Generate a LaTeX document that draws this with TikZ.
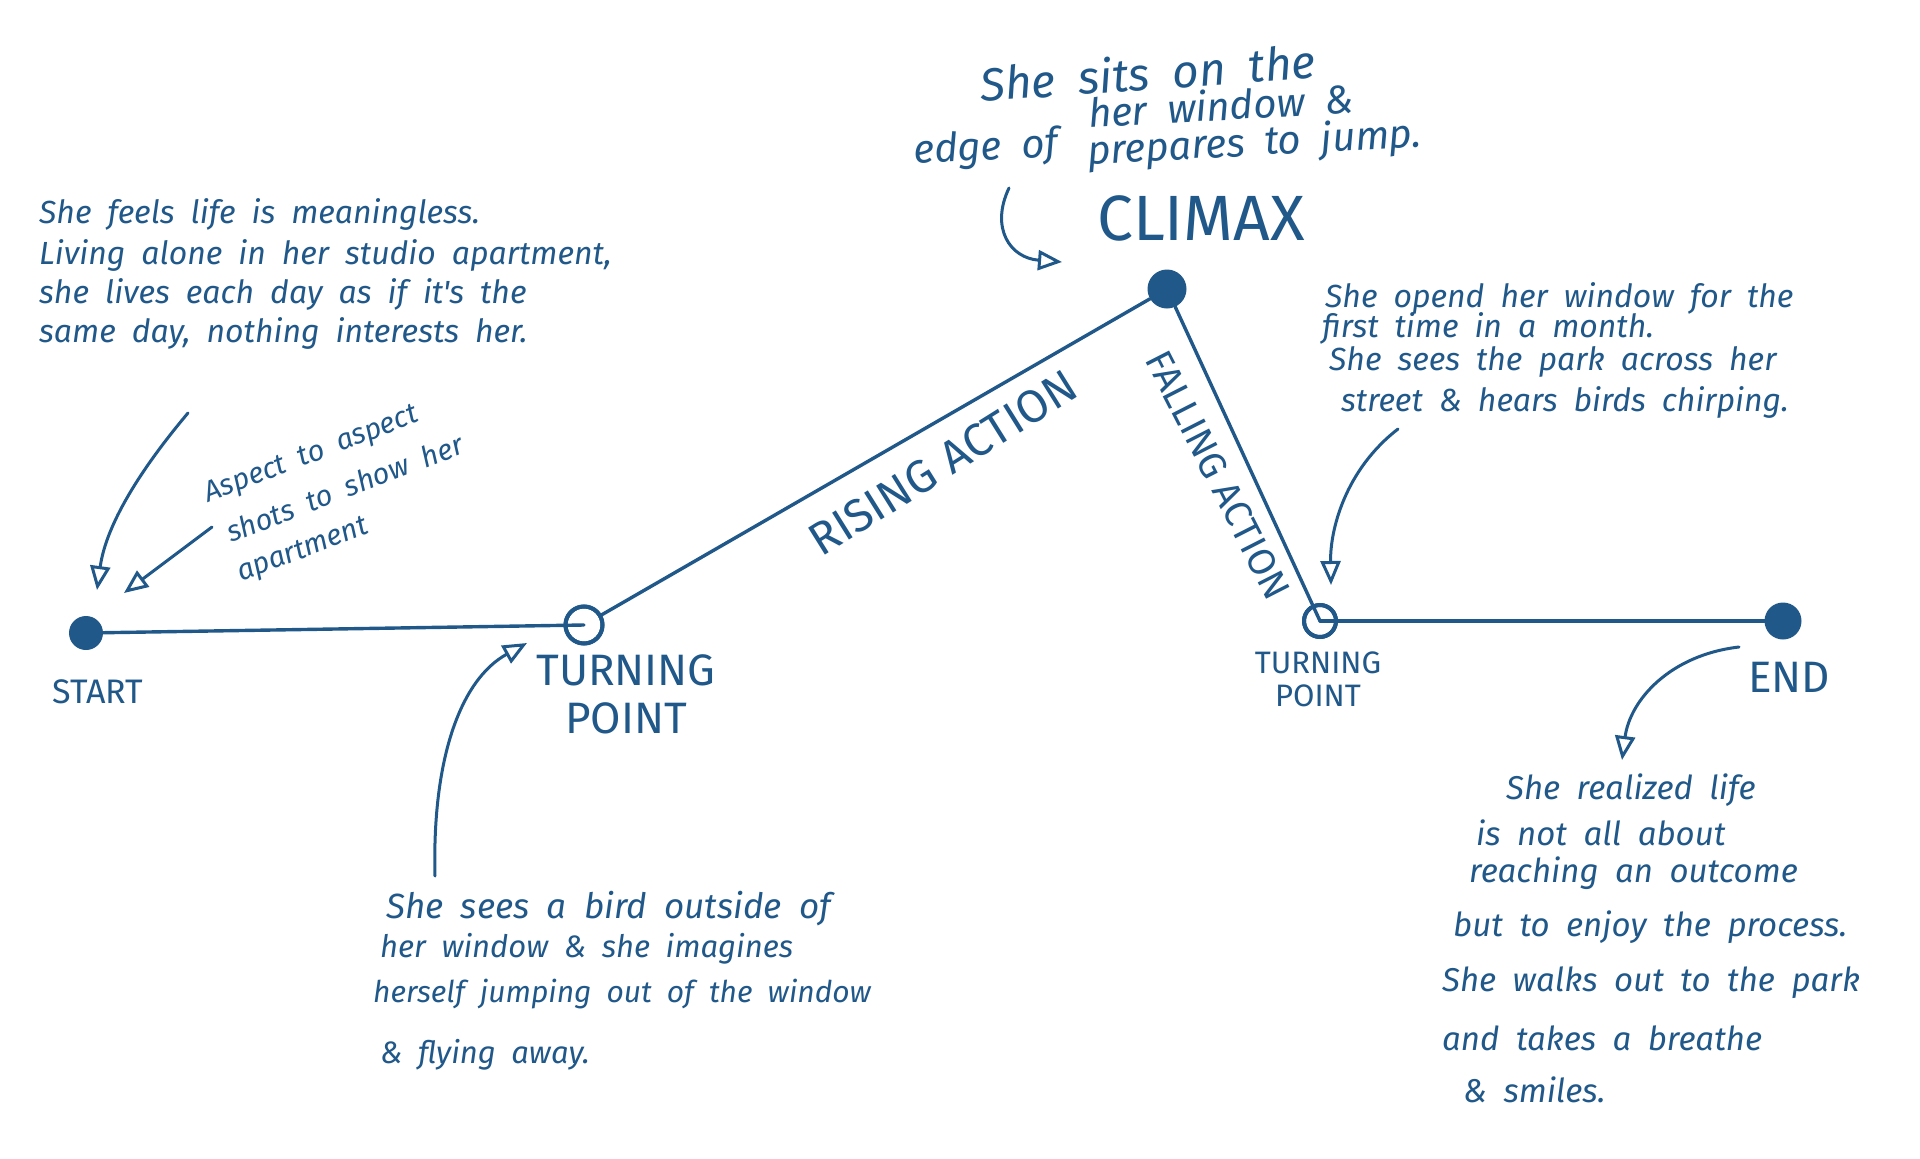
\documentclass[tikz,border=0pt]{standalone}
\usepackage{fontspec}
\setmainfont{Fira Sans}
\newfontfamily\hand{Fira Sans}
\usetikzlibrary{arrows.meta}
\definecolor{ink}{RGB}{32,88,138}
\newcommand\widesp{\spaceskip=0.5em\relax}
\begin{document}
\begin{tikzpicture}[x=1pt,y=-1pt,
  mainline/.style={draw=ink, line width=3.4pt, line cap=round},
  noteline/.style={draw=ink, line width=3pt, line cap=round,
    -{Triangle[open, length=24pt, width=20pt, line width=3pt]}},
  fulldot/.style={circle, fill=ink, inner sep=0pt, minimum size=#1},
  opendot/.style={circle, draw=ink, line width=4pt, fill=white, inner sep=0pt, minimum size=#1},
  caps/.style={text=ink, inner sep=0pt, font=\hand\fontsize{#1}{#1}\selectfont},
  note/.style={text=ink, inner sep=0pt, anchor=west,
    font={\hand\itshape\fontsize{#1}{#1}\selectfont\widesp}}
]
\useasboundingbox (0,0) rectangle (1920,1159);
\fill[white] (0,0) rectangle (1920,1159);

% main plot points
\node[fulldot=34pt] (s) at (86,633) {};
\node[opendot=37pt] (t1) at (584,625) {};
\node[fulldot=39pt] (c) at (1167,289) {};
\node[opendot=32pt] (t2) at (1320,621) {};
\node[fulldot=37pt] (e) at (1783,621) {};

\draw[mainline] (s) -- (t1.center);
\draw[mainline] (t1) -- (c);
\draw[mainline] (c) -- (t2.center);
\draw[mainline] (t2.center) -- (e);
% redraw hollow circle rims over lines
\node[circle, draw=ink, line width=4pt, inner sep=0pt, minimum size=37pt] (t1r) at (t1) {};
\node[circle, draw=ink, line width=4pt, inner sep=0pt, minimum size=32pt] (t2r) at (t2) {};

% labels
\node[caps=34] (lstart) at (98,692) {START};
\node[caps=44, align=center] (ltp1) at (626,694) {TURNING\\[4pt]POINT};
\node[caps=64] (lclimax) at (1201,218) {CLIMAX};
\node[caps=31, align=center] (ltp2) at (1318,679) {TURNING\\[2pt]POINT};
\node[caps=44] (lend) at (1789,677) {END};
\node[caps=46, rotate=32] (lrise) at (943,463) {RISING\hspace{14pt}ACTION};
\node[caps=38, rotate=-63] (lfall) at (1218,475) {FALLING\hspace{10pt}ACTION};

% top-left note
\node[note=32] (n1a) at (39,214) {She feels life is meaningless.};
\node[note=32] (n1b) at (39,255) {Living alone in her studio apartment,};
\node[note=32] (n1c) at (39,294) {she lives each day as if it's the};
\node[note=32] (n1d) at (39,333) {same day, nothing interests her.};

% aspect note
\node[note=29, rotate=21] (n2a) at (206,496) {Aspect to aspect};
\node[note=29, rotate=21] (n2b) at (227,533) {shots to show her};
\node[note=29, rotate=21] (n2c) at (239,576) {apartment};

% climax note
\node[note=46, rotate=4] (n3a) at (980,84) {She sits on the};
\node[note=40, rotate=3] (n3b) at (1088,112) {her window \&};
\node[note=40, rotate=3] (n3c) at (914,153) {edge of};
\node[note=40, rotate=3] (n3d) at (1088,153) {prepares to jump.};

% TP2 note
\node[note=32] (n4a) at (1325,298) {She opend her window for the};
\node[note=32] (n4b) at (1322,328) {first time in a month.};
\node[note=32] (n4c) at (1329,362) {She sees the park across her};
\node[note=32] (n4d) at (1341,402) {street \& hears birds chirping.};

% TP1 note
\node[note=35] (n5a) at (386,909) {She sees a bird outside of};
\node[note=31] (n5b) at (380,949) {her window \& she imagines};
\node[note=30] (n5c) at (373,994) {herself jumping out of the window};
\node[note=31] (n5d) at (380,1055) {\& flying away.};

% END note
\node[note=33] (n6a) at (1506,790) {She realized life};
\node[note=33] (n6b) at (1476,833) {is not all about};
\node[note=33] (n6c) at (1469,873) {reaching an outcome};
\node[note=33] (n6d) at (1453,927) {but to enjoy the process.};
\node[note=33] (n6e) at (1442,983) {She walks out to the park};
\node[note=33] (n6f) at (1442,1038) {and takes a breathe};
\node[note=33] (n6g) at (1463,1090) {\& smiles.};

% annotation arrows
\coordinate (a1s) at (188,413);
\coordinate (a1e) at (97,590);
\draw[noteline] (a1s) .. controls (140,470) and (106,525) .. (a1e);

\coordinate (a2s) at (212,527);
\coordinate (a2e) at (124,593);
\draw[noteline] (a2s) -- (a2e);

\coordinate (a3s) at (435,876);
\coordinate (a3e) at (527,643);
\draw[noteline] (a3s) .. controls (432,760) and (460,680) .. (a3e);

\coordinate (a4s) at (1009,188);
\coordinate (a4e) at (1062,262);
\draw[noteline] (a4s) .. controls (990,228) and (1010,258) .. (a4e);

\coordinate (a5s) at (1398,429);
\coordinate (a5e) at (1331,585);
\draw[noteline] (a5s) .. controls (1345,470) and (1330,530) .. (a5e);

\coordinate (a6s) at (1739,647);
\coordinate (a6e) at (1622,760);
\draw[noteline] (a6s) .. controls (1670,655) and (1630,700) .. (a6e);
\end{tikzpicture}
\end{document}
